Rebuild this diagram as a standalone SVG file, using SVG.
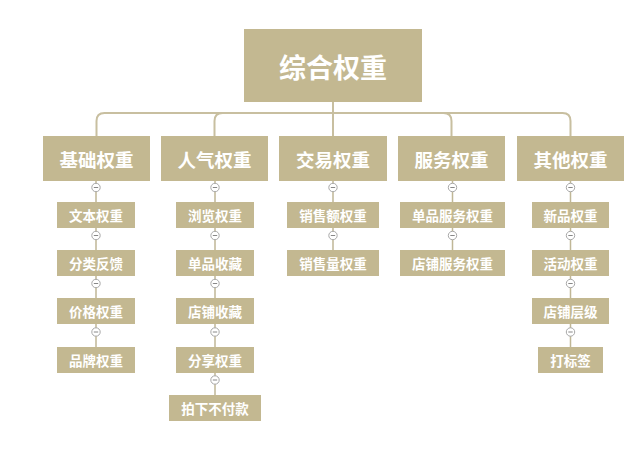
<svg xmlns="http://www.w3.org/2000/svg" width="640" height="449" viewBox="0 0 640 449">
<style>
.box{fill:#c3b891}
.t{font-family:"Noto Sans CJK SC","Noto Sans CJK TC",sans-serif;font-weight:bold;fill:#ffffff;text-anchor:middle;dominant-baseline:central}
.t0{font-size:27px}
.t1{font-size:18.5px}
.t2{font-size:13.5px}
.bus{fill:none;stroke:#c8bfa0;stroke-width:2}
.ln{fill:none;stroke:#c0b796;stroke-width:1.5}
.c{fill:#ffffff;stroke:#a8a8a8;stroke-width:1}
.m{stroke:#888888;stroke-width:1}
</style>
<defs>
<g id="col">
<circle class="c" cx="0" cy="0" r="4.2"/>
<line class="m" x1="-2.2" y1="0" x2="2.2" y2="0"/>
</g>
</defs>
<rect width="640" height="449" fill="#ffffff"/>
<g id="connectors">
<path class="bus" d="M96.5 136 V121 Q96.5 113 104.5 113 H562.5 Q570.5 113 570.5 121 V136"/>
<path class="bus" d="M333 102 V136"/>
<path class="bus" d="M214.5 136 V121 Q214.5 113 222.5 113"/>
<path class="bus" d="M451.5 136 V121 Q451.5 113 443.5 113"/>
<path class="ln" d="M96 181 V347 M215 181 V395 M333 181 V250 M452.5 181 V250 M570.5 181 V347"/>
<use href="#col" x="96" y="187.5"/>
<use href="#col" x="96" y="235.5"/>
<use href="#col" x="96" y="283.5"/>
<use href="#col" x="96" y="332"/>
<use href="#col" x="215" y="187.5"/>
<use href="#col" x="215" y="235.5"/>
<use href="#col" x="215" y="283.5"/>
<use href="#col" x="215" y="332"/>
<use href="#col" x="215" y="380"/>
<use href="#col" x="333" y="187.5"/>
<use href="#col" x="333" y="235.5"/>
<use href="#col" x="452.5" y="187.5"/>
<use href="#col" x="452.5" y="235.5"/>
<use href="#col" x="570.5" y="187.5"/>
<use href="#col" x="570.5" y="235.5"/>
<use href="#col" x="570.5" y="283.5"/>
<use href="#col" x="570.5" y="332"/>
</g>
<g id="root"><rect class="box" x="244" y="29" width="178" height="73"/><text class="t t0" x="333" y="66">综合权重</text></g>
<g id="n1"><rect class="box" x="43" y="136" width="107" height="45"/><text class="t t1" x="96.5" y="159">基础权重</text></g>
<g id="n2"><rect class="box" x="161" y="136" width="107" height="45"/><text class="t t1" x="214.5" y="159">人气权重</text></g>
<g id="n3"><rect class="box" x="279" y="136" width="108" height="45"/><text class="t t1" x="333" y="159">交易权重</text></g>
<g id="n4"><rect class="box" x="398" y="136" width="107" height="45"/><text class="t t1" x="451.5" y="159">服务权重</text></g>
<g id="n5"><rect class="box" x="517" y="136" width="107" height="45"/><text class="t t1" x="570.5" y="159">其他权重</text></g>
<g id="n1a"><rect class="box" x="57" y="202" width="78" height="26"/><text class="t t2" x="96" y="215">文本权重</text></g>
<g id="n1b"><rect class="box" x="57" y="250" width="78" height="26"/><text class="t t2" x="96" y="263">分类反馈</text></g>
<g id="n1c"><rect class="box" x="57" y="298" width="78" height="26"/><text class="t t2" x="96" y="311">价格权重</text></g>
<g id="n1d"><rect class="box" x="57" y="347" width="78" height="26"/><text class="t t2" x="96" y="360">品牌权重</text></g>
<g id="n2a"><rect class="box" x="176" y="202" width="78" height="26"/><text class="t t2" x="215" y="215">浏览权重</text></g>
<g id="n2b"><rect class="box" x="176" y="250" width="78" height="26"/><text class="t t2" x="215" y="263">单品收藏</text></g>
<g id="n2c"><rect class="box" x="176" y="298" width="78" height="26"/><text class="t t2" x="215" y="311">店铺收藏</text></g>
<g id="n2d"><rect class="box" x="176" y="347" width="78" height="26"/><text class="t t2" x="215" y="360">分享权重</text></g>
<g id="n2e"><rect class="box" x="169" y="395" width="92" height="26"/><text class="t t2" x="215" y="408">拍下不付款</text></g>
<g id="n3a"><rect class="box" x="287" y="202" width="92" height="26"/><text class="t t2" x="333" y="215">销售额权重</text></g>
<g id="n3b"><rect class="box" x="287" y="250" width="92" height="26"/><text class="t t2" x="333" y="263">销售量权重</text></g>
<g id="n4a"><rect class="box" x="400" y="202" width="105" height="26"/><text class="t t2" x="452.5" y="215">单品服务权重</text></g>
<g id="n4b"><rect class="box" x="400" y="250" width="105" height="26"/><text class="t t2" x="452.5" y="263">店铺服务权重</text></g>
<g id="n5a"><rect class="box" x="532" y="202" width="77" height="26"/><text class="t t2" x="570.5" y="215">新品权重</text></g>
<g id="n5b"><rect class="box" x="532" y="250" width="77" height="26"/><text class="t t2" x="570.5" y="263">活动权重</text></g>
<g id="n5c"><rect class="box" x="532" y="298" width="77" height="26"/><text class="t t2" x="570.5" y="311">店铺层级</text></g>
<g id="n5d"><rect class="box" x="538" y="347" width="65" height="26"/><text class="t t2" x="570.5" y="360">打标签</text></g>
</svg>
